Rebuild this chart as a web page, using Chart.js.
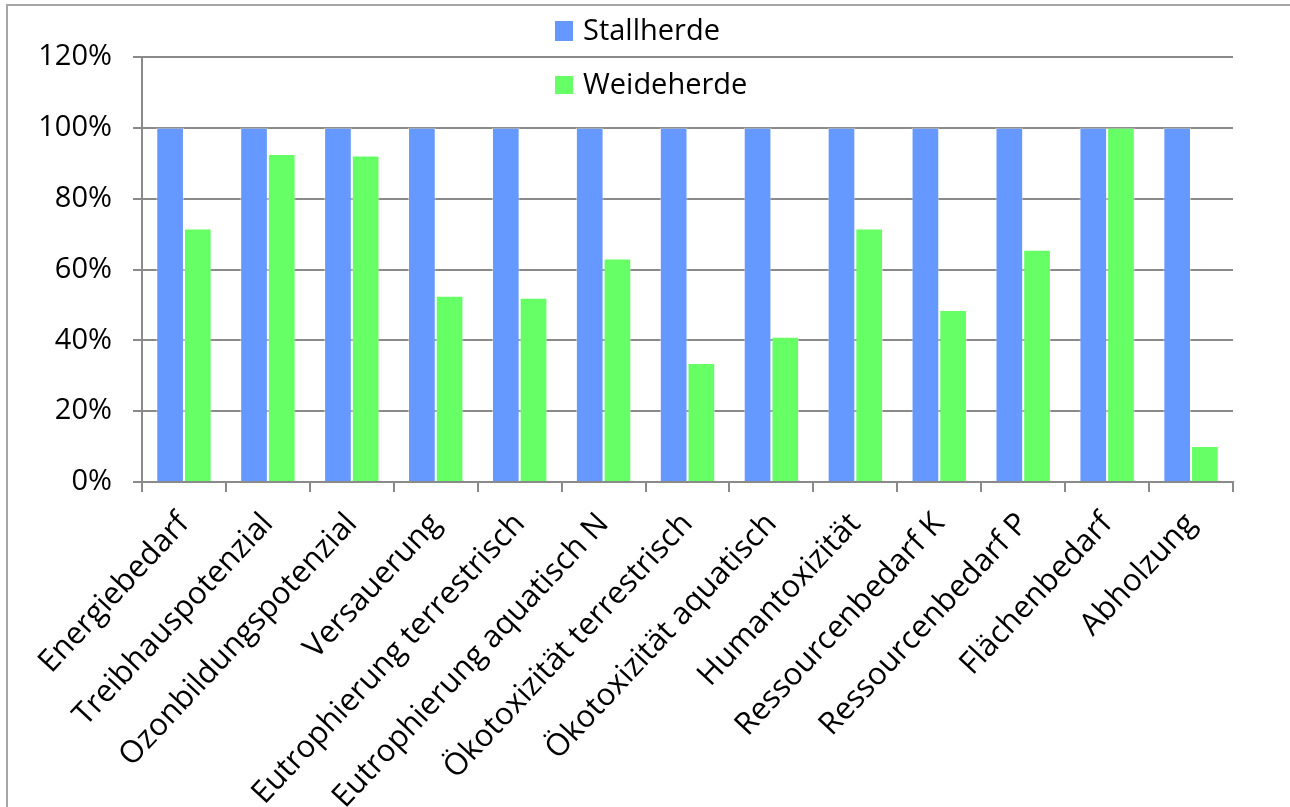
<!DOCTYPE html>
<html>
<head>
<meta charset="utf-8">
<script src="https://cdn.jsdelivr.net/npm/chart.js@4.4.1/dist/chart.umd.min.js"></script>
<style>
  html, body { margin: 0; padding: 0; background: #fff; overflow: hidden; }
  #wrap { position: relative; width: 1290px; height: 807px; }
</style>
</head>
<body>
<div id="wrap"><canvas id="chart" width="1290" height="807"></canvas></div>
<script>
// ─── Data ────────────────────────────────────────────────────────
const categories = [
  'Energiebedarf', 'Treibhauspotenzial', 'Ozonbildungspotenzial', 'Versauerung',
  'Eutrophierung terrestrisch', 'Eutrophierung aquatisch N', 'Ökotoxizität terrestrisch',
  'Ökotoxizität aquatisch', 'Humantoxizität', 'Ressourcenbedarf K', 'Ressourcenbedarf P',
  'Flächenbedarf', 'Abholzung'
];
const stallherde = [100, 100, 100, 100, 100, 100, 100, 100, 100, 100, 100, 100, 100];
const weideherde = [71.6, 92.6, 92.2, 52.6, 52.0, 63.1, 33.6, 41.0, 71.6, 48.6, 65.6, 100, 10.2];
const yTicks = [0, 20, 40, 60, 80, 100, 120];

const FONT = "'Open Sans', 'Noto Sans', sans-serif";
const GRID = '#8a8a8a';

// outer frame + legend (stacked, as in the original)
const framePlugin = {
  id: 'frame',
  beforeDraw(chart) {
    const c = chart.ctx;
    c.save();
    c.strokeStyle = '#a6a6a6';
    c.lineWidth = 2;
    c.strokeRect(7, 5, 1400, 1000);
    c.restore();
  },
  afterDraw(chart) {
    const c = chart.ctx;
    const rows = [{ y: 21, h: 20 }, { y: 76, h: 18 }];
    c.save();
    c.font = `29px ${FONT}`;
    c.textBaseline = 'middle';
    chart.data.datasets.forEach((ds, i) => {
      const r = rows[i];
      c.fillStyle = ds.backgroundColor;
      c.fillRect(555, r.y, 18, r.h);
      c.fillStyle = '#000';
      c.fillText(ds.label, 583, r.y + r.h / 2 + 1);
    });
    c.restore();
  }
};

new Chart(document.getElementById('chart'), {
  type: 'bar',
  data: {
    labels: categories,
    datasets: [
      { label: 'Stallherde', data: stallherde, backgroundColor: '#6699ff',
        borderColor: 'rgba(255,255,255,0.45)', borderWidth: 1 },
      { label: 'Weideherde', data: weideherde, backgroundColor: '#66ff66',
        borderColor: 'rgba(255,255,255,0.45)', borderWidth: 1 }
    ]
  },
  options: {
    responsive: false,
    animation: false,
    devicePixelRatio: 1,
    layout: { padding: { top: 57, right: 57, left: 0, bottom: 0 } },
    datasets: { bar: { categoryPercentage: 0.66, barPercentage: 1.0 } },
    plugins: {
      legend: { display: false },
      tooltip: { enabled: false }
    },
    scales: {
      x: {
        grid: { drawOnChartArea: false, color: GRID, lineWidth: 2, tickLength: 10, offset: true },
        border: { color: GRID, width: 2 },
        ticks: {
          color: '#000',
          font: { family: FONT, size: 31 },
          minRotation: 47, maxRotation: 47,
          autoSkip: false,
          padding: 14
        },
        afterFit(scale) { scale.height = 325; }
      },
      y: {
        min: 0, max: 120,
        afterBuildTicks(scale) { scale.ticks = yTicks.map(v => ({ value: v })); },
        grid: { color: GRID, lineWidth: 2, tickLength: 9 },
        border: { color: GRID, width: 2 },
        ticks: {
          color: '#000',
          font: { family: FONT, size: 29 },
          padding: 21,
          callback: v => v + '%'
        },
        afterFit(scale) { scale.width = 142; }
      }
    }
  },
  plugins: [framePlugin]
});
</script>
</body>
</html>
